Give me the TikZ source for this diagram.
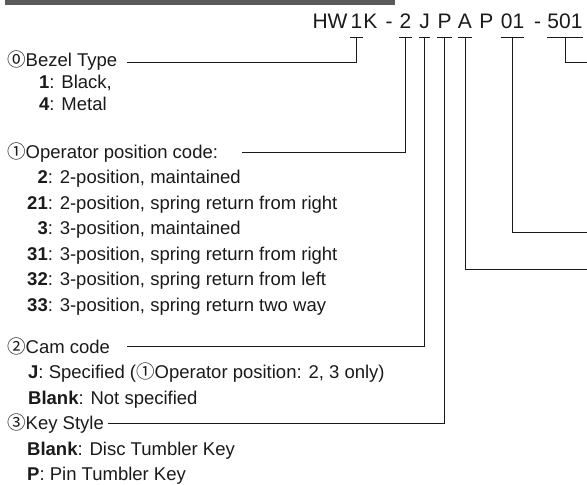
\documentclass[tikz,border=0pt]{standalone}
\usepackage{fontspec}
\setmainfont{Liberation Sans}
\newfontfamily\circfont{Noto Sans CJK JP}
\newcommand{\circnum}[1]{{\circfont #1}}
\newcommand{\opnum}[1]{\makebox[20.6pt][r]{\textbf{#1}}}
\definecolor{bargray}{HTML}{5A5A5A}
\definecolor{ink}{HTML}{1A1A1A}
\begin{document}
\begin{tikzpicture}[
	x=1pt, y=-1pt,
	code/.style={ inner sep=0pt, text depth=8.5pt, anchor=base, text=ink, font=\fontsize{21}{21}\selectfont },
	head/.style={ inner sep=0pt, anchor=base west, text=ink, font=\fontsize{18.5}{18.5}\selectfont },
	item/.style={ head },
	uline/.style={ ink, line width=1pt },
	lead/.style={ ink, line width=1pt }
]
\useasboundingbox (0,0) rectangle (587,485);

\fill[bargray] (5,0) rectangle (395,4.5);

\node[code] at (330,28.5) (hw) {HW};
\node[code] at (356.5,28.5) (c1) {1};
\node[code] at (370.5,28.5) (k) {K};
\node[code] at (389,28.5) (d1) {-};
\node[code] at (405.5,28.5) (c2) {2};
\node[code] at (424.5,28.5) (cJ) {J};
\node[code] at (444.5,28.5) (cP) {P};
\node[code] at (465,28.5) (cA) {A};
\node[code] at (486.5,28.5) (p) {P};
\node[code] at (512.5,28.5) (c01) {01};
\node[code] at (537.5,28.5) (d2) {-};
\node[code] at (565,28.5) (c501) {501};
\foreach \n in {c1,c2,cJ,cP,cA,c01,c501}
	\draw[uline] (\n.south west) to (\n.south east);

\node[head] at (7,66) (bezel) {\circnum{⓪}Bezel Type};
\node[item] at (39,88) (b1) {\textbf{1}: Black,};
\node[item] at (39,110) (b4) {\textbf{4}: Metal};

\node[head] at (7,158) (oper) {\circnum{①}Operator position code:};
\node[item] at (27,183.5) (o2) {\opnum{2}: 2-position, maintained};
\node[item] at (27,209) (o21) {\opnum{21}: 2-position, spring return from right};
\node[item] at (27,234.5) (o3) {\opnum{3}: 3-position, maintained};
\node[item] at (27,260) (o31) {\opnum{31}: 3-position, spring return from right};
\node[item] at (27,285.5) (o32) {\opnum{32}: 3-position, spring return from left};
\node[item] at (27,311) (o33) {\opnum{33}: 3-position, spring return two way};

\node[head] at (7,353) (cam) {\circnum{②}Cam code};
\node[item] at (28,378.5) (camj) {\textbf{J}: Specified (\circnum{①}Operator position: 2, 3 only)};
\node[item] at (28,404) (camb) {\textbf{Blank}: Not specified};
\node[head] at (7,429) (key) {\circnum{③}Key Style};
\node[item] at (27,455) (keyb) {\textbf{Blank}: Disc Tumbler Key};
\node[item] at (27,480) (keyp) {\textbf{P}: Pin Tumbler Key};

\coordinate (e1) at (127,62);
\coordinate (e2) at (242,152);
\coordinate (eJ) at (127,346);
\coordinate (eP) at (108,423);
\coordinate (eA) at (587,269);
\coordinate (e01) at (587,232);
\coordinate (e501) at (587,62);

\draw[lead] (c1.south) |- (e1);
\draw[lead] (c2.south) |- (e2);
\draw[lead] (cJ.south) |- (eJ);
\draw[lead] (cP.south) |- (eP);
\draw[lead] (cA.south) |- (eA);
\draw[lead] (c01.south) |- (e01);
\draw[lead] (c501.south) |- (e501);

\end{tikzpicture}
\end{document}
